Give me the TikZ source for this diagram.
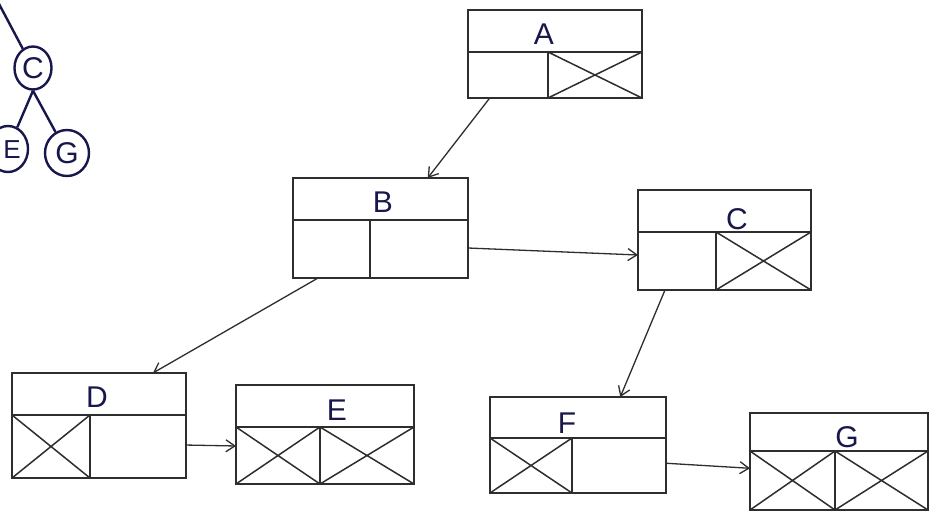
\documentclass[tikz,border=0pt]{standalone}
\usepackage{fontspec}
\setmainfont{Liberation Sans}
\usetikzlibrary{calc,arrows.meta,shapes.geometric}

\definecolor{ink}{HTML}{2E2E2E}
\definecolor{pen}{HTML}{17174C}

\tikzset{
  rec/.style={draw=ink, line width=1.5pt, rectangle, inner sep=0pt, outer sep=0pt},
  recline/.style={draw=ink, line width=1.5pt},
  lbl/.style={text=pen, font=\fontsize{30}{30}\selectfont, inner sep=0pt},
  link/.style={draw=ink, line width=1.3pt, -{Straight Barb[length=9pt,width=12pt]}},
  treenode/.style={draw=pen, line width=2.4pt, ellipse, inner sep=0pt, text=pen,
    font=\fontsize{30}{30}\selectfont},
  treeedge/.style={draw=pen, line width=2.4pt}
}

% record box: name, x1, y1, x2, y2, y of split, x of split
\newcommand\recnode[7]{%
  \node[rec, minimum width={(#4-#2)*1pt}, minimum height={(#5-#3)*1pt}]
    (#1) at ({(#2+#4)/2},{(#3+#5)/2}) {};
  \draw[recline] (#2,#6) -- (#4,#6) (#7,#6) -- (#7,#5);
}
% crossed-out cell: x1, y1, x2, y2
\newcommand\nullcell[4]{%
  \draw[recline] (#1,#2) -- (#3,#4) (#1,#4) -- (#3,#2);
}

\begin{document}
\begin{tikzpicture}[x=1pt,y=-1pt]
  \useasboundingbox[fill=white] (0,0) rectangle (930,515);

  % small tree sketch
  \coordinate (up) at (-2,2);
  \node[treenode, minimum width=37pt, minimum height=43pt] (tc) at (33,68) {C};
  \node[treenode, minimum width=40pt, minimum height=46pt] (te) at (8,149) {};
  \node[text=pen, font=\fontsize{26}{26}\selectfont, inner sep=0pt] (tet) at (12,150) {E};
  \node[treenode, minimum width=44pt, minimum height=46pt] (tg) at (67,153) {G};
  \draw[treeedge] (up) -- (tc);
  \draw[treeedge] (tc.south) -- (te);
  \draw[treeedge] (tc.south) -- (tg);

  % records
  \recnode{A}{468}{10}{642}{98}{52}{548}
  \nullcell{548}{52}{642}{98}
  \node[lbl] (At) at (544,34) {A};

  \recnode{B}{293}{178}{468}{278}{220}{370}
  \node[lbl] (Bt) at (383,202) {B};

  \recnode{C}{638}{190}{811}{290}{232}{716}
  \nullcell{716}{232}{811}{290}
  \node[lbl] (Ct) at (737,219) {C};

  \recnode{D}{12}{373}{186}{478}{415}{90}
  \nullcell{12}{415}{90}{478}
  \node[lbl] (Dt) at (97,397) {D};

  \recnode{E}{236}{385}{414}{484}{427}{320}
  \nullcell{236}{427}{320}{484}
  \nullcell{320}{427}{414}{484}
  \node[lbl] (Et) at (337,410) {E};

  \recnode{F}{490}{397}{666}{493}{438}{572}
  \nullcell{490}{438}{572}{493}
  \node[lbl] (Ft) at (567,423) {F};

  \recnode{G}{750}{413}{928}{510}{451}{835}
  \nullcell{750}{451}{835}{510}
  \nullcell{835}{451}{928}{510}
  \node[lbl] (Gt) at (847,437) {G};

  % links
  \draw[link] ($(A.south west)!0.125!(A.south east)$) -- ($(B.north west)!0.77!(B.north east)$);
  \draw[link] ($(B.north east)!0.7!(B.south east)$) -- ($(C.north west)!0.65!(C.south west)$);
  \draw[link] ($(B.south west)!0.143!(B.south east)$) -- ($(D.north west)!0.81!(D.north east)$);
  \draw[link] ($(C.south west)!0.156!(C.south east)$) -- ($(F.north west)!0.74!(F.north east)$);
  \draw[link] ($(D.north east)!0.686!(D.south east)$) -- ($(E.north west)!0.616!(E.south west)$);
  \draw[link] ($(F.north east)!0.69!(F.south east)$) -- ($(G.north west)!0.57!(G.south west)$);
\end{tikzpicture}
\end{document}
